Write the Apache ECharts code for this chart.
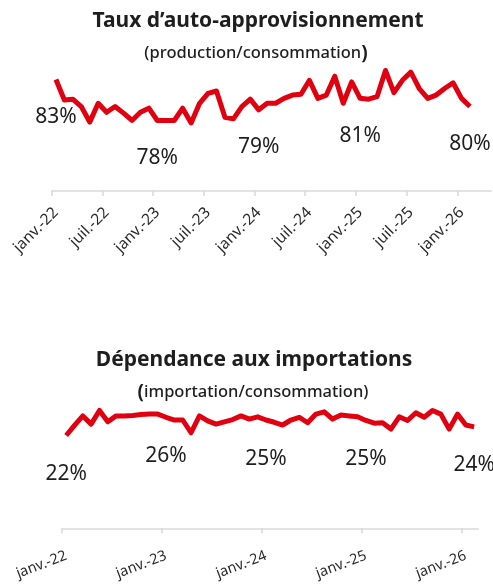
<!DOCTYPE html>
<html>
<head>
<meta charset="utf-8">
<script src="https://cdn.jsdelivr.net/npm/echarts@6.0.0/dist/echarts.min.js"></script>
<style>
html,body{margin:0;padding:0;background:#fff;}
#chart{width:493px;height:587px;}
</style>
</head>
<body>
<div id="chart"></div>
<script>
// Monthly values, janv.-22 .. févr.-26 (50 months)
const supplyRatio = [
  83.0, 80.5, 80.6, 79.7, 77.8, 80.1, 79.0, 79.7, 78.9, 78.0, 79.0, 79.5,
  78.0, 78.0, 78.0, 79.5, 77.7, 80.1, 81.3, 81.6, 78.4, 78.2, 79.7, 80.6,
  79.3, 80.1, 80.1, 80.7, 81.1, 81.2, 82.9, 80.7, 81.1, 83.4, 80.1, 82.7,
  80.7, 80.6, 80.9, 84.1, 81.4, 82.9, 83.9, 81.9, 80.7, 81.1, 81.9, 82.6,
  80.7, 79.7
];
const importRatio = [
  22.0, 24.2, 26.3, 24.5, 27.5, 25.0, 26.3, 26.3, 26.4, 26.6, 26.7, 26.7,
  26.0, 25.4, 25.4, 22.6, 26.3, 25.2, 24.5, 25.0, 25.5, 26.3, 25.6, 26.1,
  25.4, 24.9, 24.3, 25.4, 26.0, 24.8, 26.7, 27.2, 25.6, 26.5, 26.3, 26.1,
  25.3, 24.7, 24.8, 23.4, 26.1, 25.3, 27.0, 26.0, 27.5, 26.7, 23.4, 26.7,
  24.3, 23.9
];
const labelledMonths = [0, 12, 24, 36, 49];

const topTickMonths = [0, 6, 12, 18, 24, 30, 36, 42, 48];
const topTickLabels = ['janv.-22','juil.-22','janv.-23','juil.-23','janv.-24','juil.-24','janv.-25','juil.-25','janv.-26'];
const bottomTickMonths = [0, 12, 24, 36, 48];
const bottomTickLabels = ['janv.-22','janv.-23','janv.-24','janv.-25','janv.-26'];

const RED = '#E1000F';
const FONT = "'Noto Sans', sans-serif";

function toPoints(values) {
  return values.map(function (v, i) {
    const item = { value: [i + 0.5, v] };
    if (labelledMonths.indexOf(i) >= 0) item.label = { show: true };
    return item;
  });
}
function tickFormatter(months, labels) {
  return function (val) {
    const idx = months.indexOf(Math.round(val));
    return idx >= 0 ? labels[idx] : '';
  };
}
function pctLabel(p) { return Math.round(p.value[1]) + '%'; }

const subStyle = { fontFamily: FONT, fontSize: 16.5, fontWeight: 500, color: '#1e1e1e',
  rich: { p: { fontFamily: FONT, fontSize: 19, fontWeight: 'bold', color: '#1e1e1e' } } };

const chart = echarts.init(document.getElementById('chart'), null, { renderer: 'canvas' });
chart.setOption({
  animation: false,
  textStyle: { fontFamily: FONT },
  title: [
    { text: 'Taux d’auto-approvisionnement', left: 253, top: 6, textAlign: 'center',
      textStyle: { fontFamily: FONT, fontSize: 21, fontWeight: 'bold', color: '#1e1e1e' } },
    { text: '(production/consommation{p|)}', left: 251, top: 39, textAlign: 'center', textStyle: subStyle },
    { text: 'Dépendance aux importations', left: 249, top: 345, textAlign: 'center',
      textStyle: { fontFamily: FONT, fontSize: 21, fontWeight: 'bold', color: '#1e1e1e' } },
    { text: '{p|(}importation/consommation)', left: 248, top: 378, textAlign: 'center', textStyle: subStyle }
  ],
  grid: [
    { left: 51.7, width: 439.4, top: 63.1, height: 127.9 },
    { left: 62, width: 416.3, top: 405.9, height: 122.4 }
  ],
  xAxis: [
    { gridIndex: 0, type: 'value', min: 0, max: 52,
      splitLine: { show: false },
      axisLine: { show: true, lineStyle: { color: '#d9d9d9', width: 1.5 } },
      axisTick: { show: true, length: 5, customValues: topTickMonths, lineStyle: { color: '#d9d9d9', width: 1.5 } },
      axisLabel: { customValues: topTickMonths.map(function (m) { return m + 0.5; }), rotate: 45, margin: 19,
        fontSize: 15.5, color: '#2a2a2a', fontFamily: FONT,
        formatter: function (v) { return tickFormatter(topTickMonths, topTickLabels)(v - 0.5); } } },
    { gridIndex: 1, type: 'value', min: 0, max: 50,
      splitLine: { show: false },
      axisLine: { show: true, lineStyle: { color: '#d9d9d9', width: 1.5 } },
      axisTick: { show: true, length: 5, customValues: bottomTickMonths, lineStyle: { color: '#d9d9d9', width: 1.5 } },
      axisLabel: { customValues: bottomTickMonths.map(function (m) { return m + 0.5; }), rotate: 21, margin: 27,
        fontSize: 14.5, color: '#2a2a2a', fontFamily: FONT,
        formatter: function (v) { return tickFormatter(bottomTickMonths, bottomTickLabels)(v - 0.5); } } }
  ],
  yAxis: [
    { gridIndex: 0, type: 'value', min: 69.4, max: 85, show: false, splitLine: { show: false } },
    { gridIndex: 1, type: 'value', min: 1.6, max: 28.5, show: false, splitLine: { show: false } }
  ],
  series: [
    { type: 'line', xAxisIndex: 0, yAxisIndex: 0, data: toPoints(supplyRatio),
      showSymbol: true, showAllSymbol: true, symbol: 'circle', symbolSize: 0.1,
      itemStyle: { color: 'rgba(0,0,0,0)' },
      lineStyle: { color: RED, width: 5, join: 'round' },
      label: { show: false, position: 'bottom', distance: 27, fontSize: 21, color: '#1e1e1e', fontFamily: FONT,
        formatter: pctLabel } },
    { type: 'line', xAxisIndex: 1, yAxisIndex: 1, data: toPoints(importRatio),
      showSymbol: true, showAllSymbol: true, symbol: 'circle', symbolSize: 0.1,
      itemStyle: { color: 'rgba(0,0,0,0)' },
      lineStyle: { color: RED, width: 5, join: 'round' },
      label: { show: false, position: 'bottom', distance: 28, fontSize: 21, color: '#1e1e1e', fontFamily: FONT,
        formatter: pctLabel } }
  ]
});
</script>
</body>
</html>
